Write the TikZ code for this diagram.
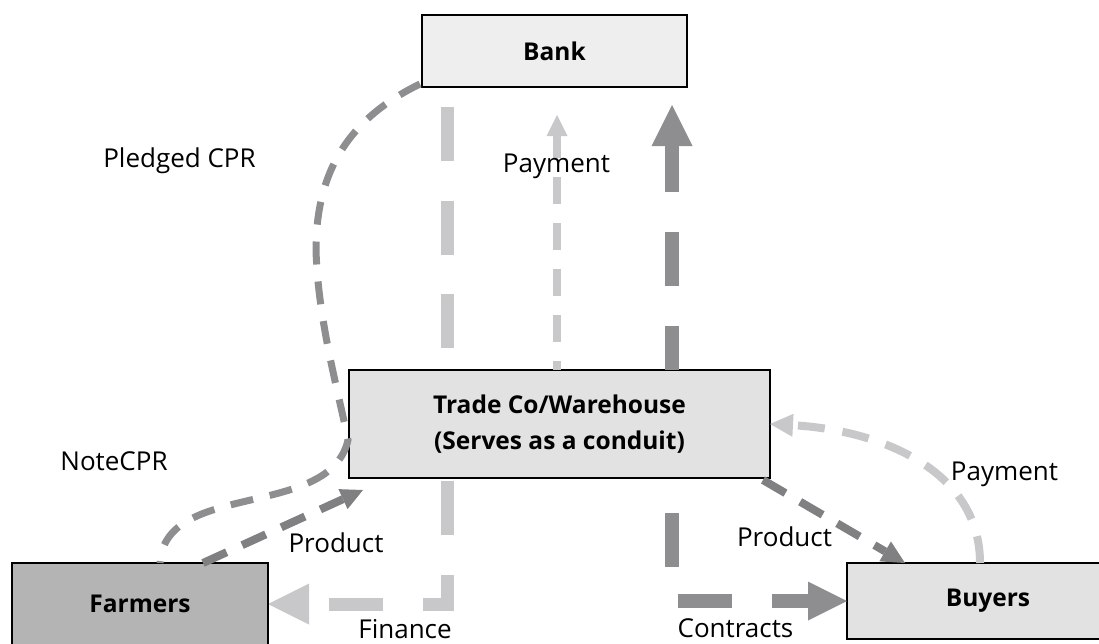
\documentclass[tikz,border=0pt]{standalone}
\usepackage{fontspec}
\setmainfont{Open Sans}
\usetikzlibrary{arrows.meta,calc,backgrounds}
\definecolor{lightflow}{RGB}{200,200,202}
\definecolor{darkflow}{RGB}{142,142,145}
\definecolor{prodflow}{RGB}{128,128,130}
\definecolor{bankfill}{RGB}{238,238,238}
\definecolor{tradefill}{RGB}{226,226,227}
\definecolor{farmfill}{RGB}{180,180,181}
\begin{document}
\begin{tikzpicture}[x=1pt,y=-1pt,
  box/.style={draw=black, line width=1.6pt, inner sep=0pt, outer sep=0pt,
    font=\fontsize{24.5}{36}\selectfont\bfseries, align=center},
  lbl/.style={font=\fontsize{26}{30}\selectfont, anchor=base, inner sep=0pt},
  bigtip/.style={-{Triangle[length=#1,width=#1,line width=0pt]}},
  widelight/.style={lightflow, line width=13pt, dash pattern=on 54pt off 39.5pt},
  widedark/.style={darkflow, line width=14pt, dash pattern=on 54pt off 40pt},
  thinlight/.style={lightflow, line width=8pt, dash pattern=on 27pt off 19pt},
  thindark/.style={prodflow, line width=8pt, dash pattern=on 26pt off 17pt},
  pledge/.style={darkflow, line width=7pt, dash pattern=on 23pt off 17pt}]
\useasboundingbox (0,0) rectangle (1099,643);
\clip (0,0) rectangle (1099,643);

% parties
\node[box, fill=bankfill, minimum width=265pt, minimum height=72pt] (bank) at (554.5,51) {Bank};
\node[box, fill=tradefill, minimum width=421pt, minimum height=108pt] (trade) at (559.5,424)
  {Trade Co/Warehouse\\(Serves as a conduit)};
\node[box, fill=farmfill, minimum width=256pt, minimum height=82pt] (farmers) at (140,604) {Farmers};
\node[box, fill=tradefill, minimum width=282pt, minimum height=76pt] (buyers) at (988,601) {Buyers};

% anchor points on the boxes
\coordinate (finTop) at ($(bank.south west)+(25,0)$);
\coordinate (upBase) at ($(trade.north east)+(-98,0)$);
\coordinate (ctBase) at ($(trade.south east)+(-98,0)$);
\coordinate (payBase) at ($(trade.north)+(-2.5,0)$);
\coordinate (pledgeStart) at ($(bank.south west)+(-2,-3)$);
\coordinate (pledgeEnd) at ($(farmers.north west)+(148,0)$);
\coordinate (prodL) at ($(farmers.north west)+(191,0)$);
\coordinate (prodLTip) at ($(trade.south west)+(14,12)$);
\coordinate (prodR) at ($(trade.south east)+(-7,2)$);
\coordinate (prodRTip) at ($(buyers.north west)+(58,0)$);
\coordinate (payR) at ($(buyers.north west)+(133,0)$);

% finance runs behind the trade company box
\begin{pgfonlayer}{background}
\draw[widelight, shorten <=20pt, bigtip=41pt] (finTop) |- (farmers.east);
\end{pgfonlayer}

% payment to the bank and contracts
\draw[widedark, dash phase=10pt, shorten >=18pt, bigtip=41pt] (upBase) -- (upBase |- bank.south);
\draw[widedark, dash phase=59pt, bigtip=39pt] (ctBase) |- (buyers.west);
\draw[thinlight, dash phase=18pt, shorten >=28pt, bigtip=21pt] (payBase) -- (payBase |- bank.south);

% pledged / note CPR
\draw[pledge] (pledgeStart) .. controls (350,118) and (316,170) .. (316,250)
  .. controls (318,320) and (338,390) .. (348,440)
  .. controls (330,520) and (165,480) .. (pledgeEnd);

% product flows
\draw[thindark, bigtip=22pt] (prodL) -- (prodLTip);
\draw[thindark, bigtip=23pt] (prodR) -- (prodRTip);

% buyers' payment
\draw[thinlight, dash pattern=on 27pt off 18pt, bigtip=23pt] (payR) .. controls (980,470) and (880,430) .. (trade.east);

% labels
\node[lbl] (tPledged) at (179.5,167) {Pledged CPR};
\node[lbl] (tPayTop) at (556.5,172) {Payment};
\node[lbl] (tNote) at (114,470) {NoteCPR};
\node[lbl] (tProdL) at (336,552) {Product};
\node[lbl] (tFinance) at (405,638) {Finance};
\node[lbl] (tContracts) at (735.5,637) {Contracts};
\node[lbl] (tProdR) at (784.5,546) {Product};
\node[lbl] (tPayR) at (1004.5,480) {Payment};
\end{tikzpicture}
\end{document}
